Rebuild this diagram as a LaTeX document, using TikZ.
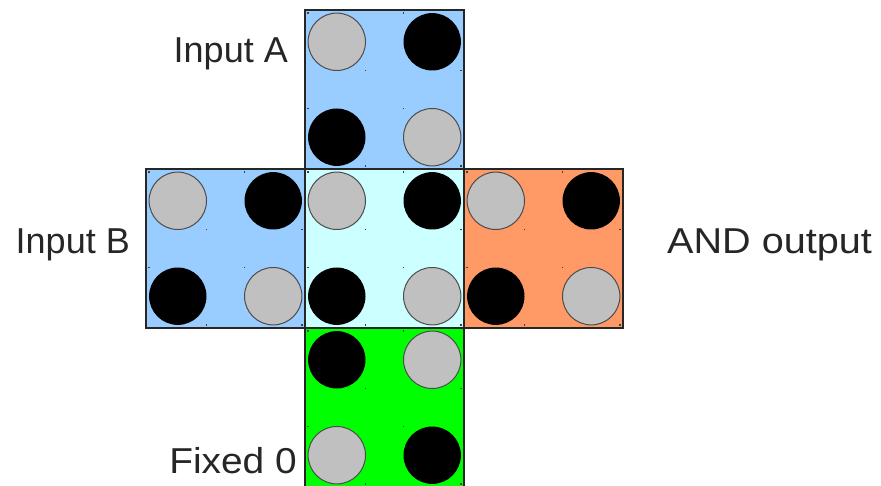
\documentclass[tikz,border=0pt]{standalone}
\usepackage{fontspec}
\setmainfont{Liberation Sans}
\definecolor{inputblue}{HTML}{99CCFF}
\definecolor{coretint}{HTML}{CCFFFF}
\definecolor{outorange}{HTML}{FF9966}
\definecolor{fixgreen}{HTML}{00FF00}
\definecolor{ballgray}{HTML}{C0C0C0}
\begin{document}
\begin{tikzpicture}[x=1pt,y=-1pt,
  cell/.style={draw=black!85, line width=1.3pt, minimum size=159pt,
    inner sep=0pt, outer sep=0pt},
  ball/.style={circle, minimum size=57.4pt, inner sep=0pt, outer sep=0pt},
  lightball/.style={ball, fill=ballgray, draw=black!70, line width=1pt},
  darkball/.style={ball, fill=black},
  handle/.style={fill=black!75, inner sep=0pt, minimum size=1.3pt},
  lbl/.style={font=\fontsize{36}{40}\selectfont, text=black!85, inner sep=0pt}]
\useasboundingbox (0,0) rectangle (881,486);

% the five cells of the cross
\node[cell, fill=inputblue] (top)    at (384.5, 89.5)  {};
\node[cell, fill=inputblue] (left)   at (225.5, 248.5) {};
\node[cell, fill=outorange] (right)  at (543.5, 248.5) {};
\node[cell, fill=fixgreen]  (bottom) at (384.5, 407.5) {};
\node[cell, fill=coretint]  (center) at (384.5, 248.5) {};

% four balls per cell; corner dots mark each ball's bounding box
\foreach \sq/\tl/\tr/\bl/\br in {
    top/lightball/darkball/darkball/lightball,
    left/lightball/darkball/darkball/lightball,
    center/lightball/darkball/darkball/lightball,
    right/lightball/darkball/darkball/lightball,
    bottom/darkball/lightball/lightball/darkball} {
  \node[\tl] (\sq-tl) at ([xshift=-47.7pt, yshift=47.7pt]\sq.center) {};
  \node[\tr] (\sq-tr) at ([xshift=47.7pt, yshift=47.7pt]\sq.center) {};
  \node[\bl] (\sq-bl) at ([xshift=-47.7pt, yshift=-47.7pt]\sq.center) {};
  \node[\br] (\sq-br) at ([xshift=47.7pt, yshift=-47.7pt]\sq.center) {};
  \foreach \b in {tl,tr,bl,br} {
    \node[handle] at ([xshift=-28.7pt]\sq-\b.north) {};
    \node[handle] at ([xshift=28.7pt]\sq-\b.south) {};
  }
}

% labels
\node[lbl, anchor=base east] (labA)   at (288, 62.3)  {Input A};
\node[lbl, anchor=base east] (labB)   at (130, 253.3) {Input B};
\node[lbl, anchor=base west] (labOut) at (667, 253.3) {\scalebox{1.1}[1]{AND output}};
\node[lbl, anchor=base east] (labFix) at (297, 473.3) {\scalebox{1.08}[1]{Fixed 0}};
\end{tikzpicture}
\end{document}
